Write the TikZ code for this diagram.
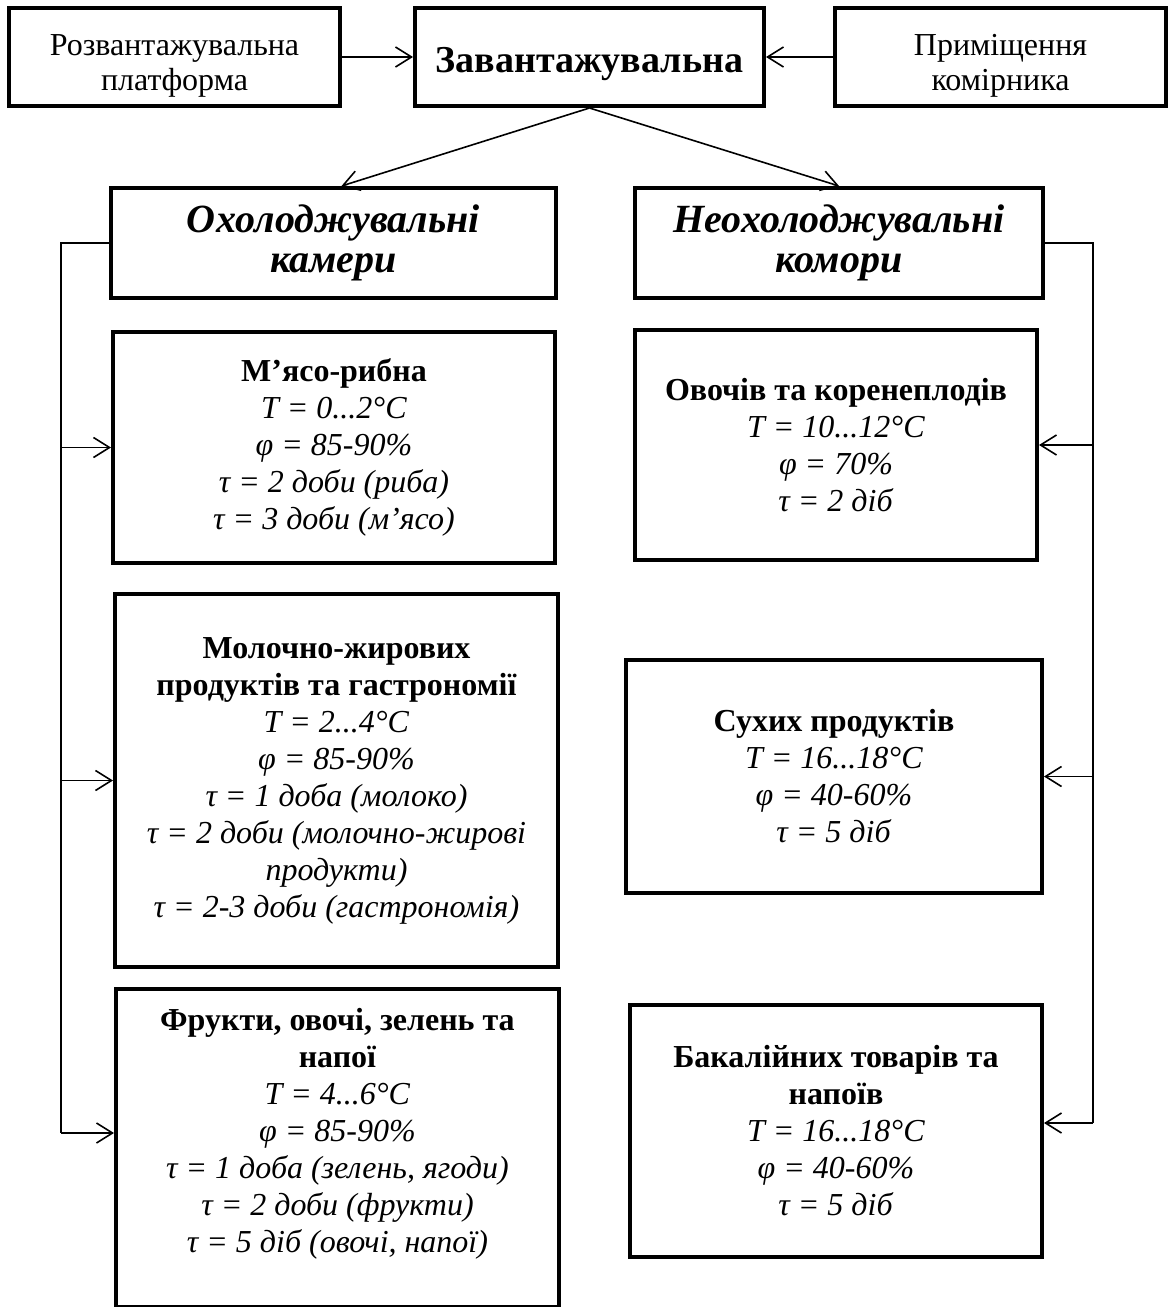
\documentclass[tikz,border=0pt]{standalone}
\usepackage{fontspec}
\setmainfont{Liberation Serif}
\usetikzlibrary{arrows.meta}

\tikzset{
  boxline/.style={draw,line width=2pt,align=center,inner sep=0pt},
  plainbox/.style={boxline,font=\fontsize{16}{17.5}\selectfont},
  mainbox/.style={boxline,font=\fontsize{19}{21}\selectfont\bfseries},
  groupbox/.style={boxline,font=\fontsize{20}{20}\selectfont\bfseries\itshape},
  roombox/.style={boxline,font=\fontsize{16}{18.5}\selectfont},
  roomtext/.style={align=center,inner sep=0pt,font=\fontsize{16}{18.5}\selectfont},
  trunk/.style={line width=0.8pt},
  link/.style={trunk,-{Straight Barb[length=8pt,width=10pt]}}
}

\begin{document}
\begin{tikzpicture}[x=0.5pt,y=-0.5pt]
  \useasboundingbox (0,0) rectangle (1171,1307);

  % top row
  \node[plainbox,minimum width=165.5pt,minimum height=49pt] (unload) at (174.5,57) {\rule{0pt}{19pt}Розвантажувальна\\платформа};
  \node[mainbox,minimum width=174.5pt,minimum height=49pt] (load) at (589.5,57) {\rule{0pt}{20pt}Завантажувальна};
  \node[plainbox,minimum width=165.5pt,minimum height=49pt] (keeper) at (1000.5,57) {\rule{0pt}{19pt}Приміщення\\комірника};

  % two groups
  \node[groupbox,minimum width=222.5pt,minimum height=55pt] (cold) at (333.5,243) {Охолоджувальні\\камери};
  \node[groupbox,minimum width=204pt,minimum height=55pt] (warm) at (839,243) {Неохолоджувальні\\комори};

  % cooled chambers
  \node[roombox,minimum width=221pt,minimum height=115.5pt] (meat) at (334,447.5)
    {\textbf{М’ясо-рибна}\\\textit{T = 0...2°C}\\\textit{φ = 85-90\%}\\\textit{τ = 2 доби (риба)}\\\textit{τ = 3 доби (м’ясо)}};
  \node[roombox,minimum width=221.5pt,minimum height=186.5pt] (dairy) at (336.5,780.5)
    {\textbf{Молочно-жирових}\\\textbf{продуктів та гастрономії}\\\textit{T = 2...4°C}\\\textit{φ = 85-90\%}\\\textit{τ = 1 доба (молоко)}\\\textit{τ = 2 доби (молочно-жирові}\\\textit{продукти)}\\\textit{τ = 2-3 доби (гастрономія)}};
  \node[roombox,minimum width=221.5pt,minimum height=159pt,anchor=north] (fruit) at (337.5,987) {};
  \node[roomtext] (fruittext) at (337.5,1134)
    {\textbf{Фрукти, овочі, зелень та}\\\textbf{напої}\\\textit{T = 4...6°C}\\\textit{φ = 85-90\%}\\\textit{τ = 1 доба (зелень, ягоди)}\\\textit{τ = 2 доби (фрукти)}\\\textit{τ = 5 діб (овочі, напої)}};

  % uncooled rooms
  \node[roombox,minimum width=201pt,minimum height=115pt] (veg) at (836,445)
    {\textbf{Овочів та коренеплодів}\\\textit{T = 10...12°C}\\\textit{φ = 70\%}\\\textit{τ = 2 діб}};
  \node[roombox,minimum width=208pt,minimum height=116.5pt] (dry) at (834,776.5)
    {\textbf{Сухих продуктів}\\\textit{T = 16...18°C}\\\textit{φ = 40-60\%}\\\textit{τ = 5 діб}};
  \node[roombox,minimum width=206pt,minimum height=126pt] (grocery) at (836,1131)
    {\textbf{Бакалійних товарів та}\\\textbf{напоїв}\\\textit{T = 16...18°C}\\\textit{φ = 40-60\%}\\\textit{τ = 5 діб}};

  % arrows
  \draw[link] (unload) -- (load);
  \draw[link] (keeper) -- (load);
  \draw[link] (load.south) -- ([xshift=4pt]cold.north);
  \draw[link] (load.south) -- (warm.north);

  \coordinate (lbend) at (61,243);
  \coordinate (lfoot) at (61,1133);
  \draw[trunk] (cold.west) -- (lbend) -- (lfoot);
  \draw[link] (lbend |- meat) -- (meat);
  \draw[link] (lbend |- dairy) -- (dairy);
  \draw[link] (lfoot) -- (lfoot -| fruit.west);

  \coordinate (rbend) at (1093,243);
  \coordinate (rfoot) at (1093,1123);
  \draw[trunk] (warm.east) -- (rbend) -- (rfoot);
  \draw[link] (rbend |- veg) -- (veg);
  \draw[link] (rbend |- dry) -- (dry);
  \draw[link] (rfoot) -- (rfoot -| grocery.east);
\end{tikzpicture}
\end{document}
